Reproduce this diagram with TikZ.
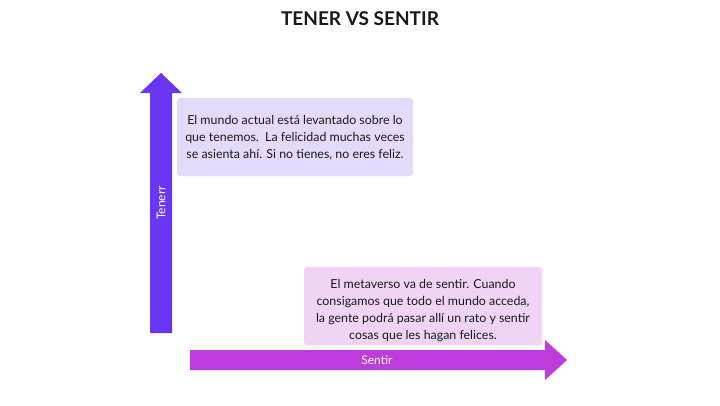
\documentclass[tikz,border=0pt]{standalone}
\usepackage{fontspec}
\setmainfont{Lato}
\definecolor{vbar}{HTML}{6A35F5}
\definecolor{hbar}{HTML}{BE3BDC}
\definecolor{boxa}{HTML}{E4DBFB}
\definecolor{boxb}{HTML}{F0D4F6}
\definecolor{ink}{HTML}{1A1A1A}
\begin{document}
\begin{tikzpicture}[x=1pt,y=-1pt,
  infobox/.style={rounded corners=3pt,draw=none},
  boxtext/.style={align=center,text=ink,font=\fontsize{12.4}{17}\selectfont},
  arrowlabel/.style={text=white,font=\fontsize{12}{14}\selectfont}]
\useasboundingbox (0,0) rectangle (720,405);
\fill[white] (0,0) rectangle (720,405);
% title
\node[font=\bfseries\fontsize{19}{22}\selectfont,text=ink] (title) at (360,19) {TENER VS SENTIR};
% vertical arrow
\fill[vbar] (150,333) -- (150,93) -- (140,93) -- (161,73) -- (182,93) -- (172,93) -- (172,333) -- cycle;
% horizontal arrow
\fill[hbar] (190,350) -- (545,350) -- (545,340) -- (567,360) -- (545,380) -- (545,370) -- (190,370) -- cycle;
% boxes
\fill[boxa,infobox] (177,98) rectangle (413,176);
\fill[boxb,infobox] (304,267) rectangle (542,345);
\node[boxtext] (ta) at (295,138) {El mundo actual está levantado sobre lo\\que tenemos.\ \ La felicidad muchas veces\\se asienta ahí. Si no tienes, no eres feliz.};
\node[boxtext] (tb) at (423,311) {El metaverso va de sentir. Cuando\\consigamos que todo el mundo acceda,\\la gente podrá pasar allí un rato y sentir\\cosas que les hagan felices.};
\node[arrowlabel,rotate=90] (la) at (161,203) {Tenerr};
\node[arrowlabel] (lb) at (377,360) {Sentir};
\end{tikzpicture}
\end{document}
